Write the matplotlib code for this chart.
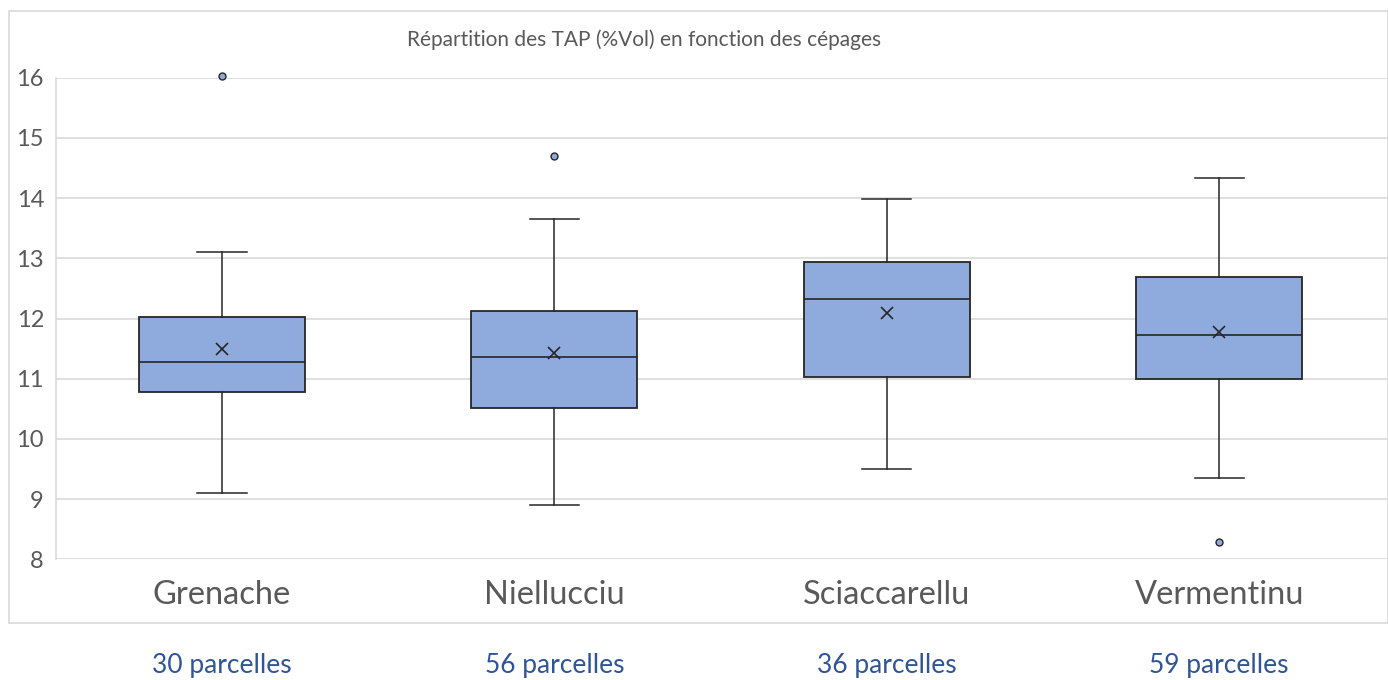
#!/usr/bin/env python3
"""Boxplot des TAP par cépage."""

import matplotlib
matplotlib.use('Agg')
import matplotlib.pyplot as plt
from matplotlib.patches import Rectangle
from matplotlib.transforms import blended_transform_factory

plt.rcParams['font.family'] = ['Lato', 'DejaVu Sans']

# Données
cepages = ["Grenache", "Niellucciu", "Sciaccarellu", "Vermentinu"]
n_parcelles = [30, 56, 36, 59]
whis_lo = [9.10, 8.90, 9.50, 9.35]
q1 = [10.78, 10.51, 11.03, 11.00]
median = [11.28, 11.36, 12.32, 11.73]
q3 = [12.03, 12.13, 12.94, 12.69]
whis_hi = [13.10, 13.65, 13.99, 14.34]
mean = [11.49, 11.43, 12.09, 11.77]
outliers = [[16.03], [14.70], [], [8.29]]

BOX_COLOR = "#8FAADC"
GRID = "#D9D9D9"
TEXT = "#595959"
BLUE = "#2F5597"
EDGE = "#262626"

W, H = 1388, 680
STEP = 332.4  # px par catégorie


def main():
    fig = plt.figure(figsize=(W / 100, H / 100), dpi=100)
    fig.patch.set_facecolor("white")

    # Cadre du graphique
    fig.add_artist(Rectangle((9 / W, 1 - 623 / H), (W - 9) / W, (623 - 11) / H,
                             transform=fig.transFigure, fill=False,
                             edgecolor=GRID, lw=1.2))

    x0 = 222 - STEP / 2
    ax = fig.add_axes([x0 / W, 1 - 559.3 / H, (W - x0) / W, (559.3 - 77.7) / H])

    stats = []
    for i, name in enumerate(cepages):
        stats.append(dict(label=name, whislo=whis_lo[i], q1=q1[i], med=median[i],
                          q3=q3[i], whishi=whis_hi[i], mean=mean[i],
                          fliers=outliers[i]))

    ax.bxp(stats, positions=range(1, len(cepages) + 1), widths=0.5,
           patch_artist=True, showmeans=True, capwidths=0.148,
           boxprops=dict(facecolor=BOX_COLOR, edgecolor=EDGE, lw=1.3),
           medianprops=dict(color=EDGE, lw=1.2),
           whiskerprops=dict(color=EDGE, lw=1.1),
           capprops=dict(color=EDGE, lw=1.1),
           meanprops=dict(marker="x", markeredgecolor=EDGE,
                          markersize=8, markeredgewidth=1.2),
           flierprops=dict(marker="o", markerfacecolor=BOX_COLOR,
                           markeredgecolor=EDGE, markersize=5,
                           markeredgewidth=1.0))
    for line in ax.lines:
        line.set_clip_on(False)

    ax.set_xlim(0.5, 0.5 + (W - x0) / STEP)
    ax.set_ylim(8, 16)
    ax.set_yticks(range(8, 17))
    ax.yaxis.grid(True, color=GRID, lw=1.2)
    ax.set_axisbelow(True)
    for s in ["top", "right", "bottom"]:
        ax.spines[s].set_visible(False)
    ax.spines["left"].set_color(GRID)
    ax.spines["left"].set_linewidth(1.2)
    ax.tick_params(axis="both", length=0)
    ax.tick_params(axis="y", labelsize=17, labelcolor=TEXT, pad=8.5)
    ax.tick_params(axis="x", labelsize=23.5, labelcolor=TEXT, pad=15)

    fig.text(644 / W, 1 - 40 / H,
             "Répartition des TAP (%Vol) en fonction des cépages",
             ha="center", va="center", fontsize=15, color=TEXT)

    tr = blended_transform_factory(ax.transData, fig.transFigure)
    for i, n in enumerate(n_parcelles):
        ax.text(i + 1, 1 - 665 / H, f"{n} parcelles", transform=tr,
                ha="center", va="center", fontsize=19, color=BLUE)

    fig.savefig("out.png", dpi=100, facecolor="white")
    plt.close(fig)


if __name__ == "__main__":
    main()
